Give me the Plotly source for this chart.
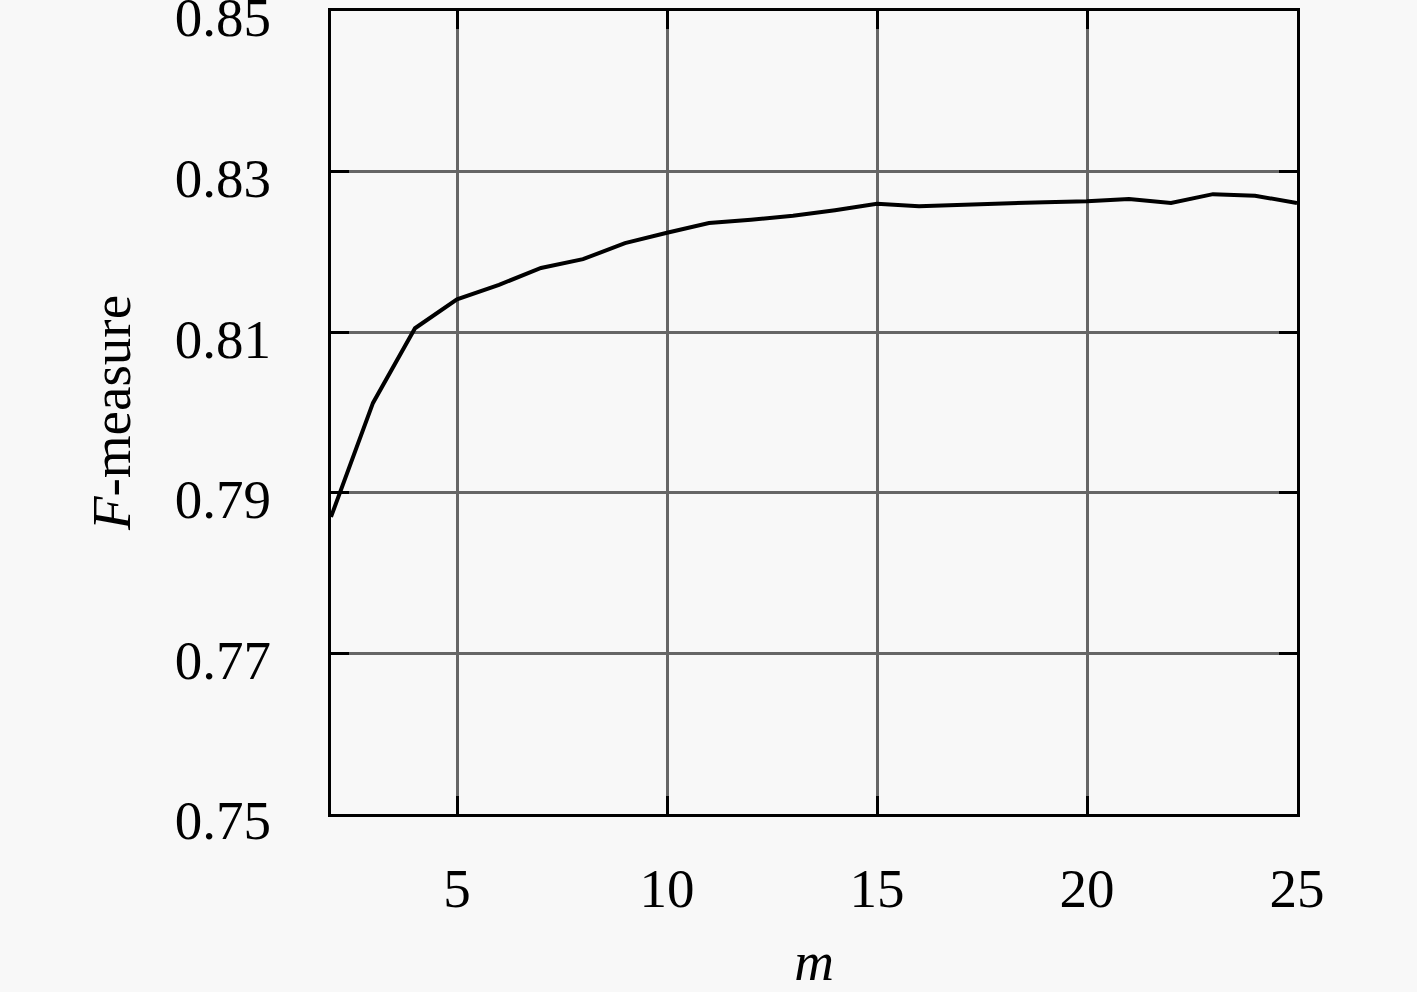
import plotly.graph_objects as go

m_values = list(range(2, 26))
f_measure = [0.7870, 0.8012, 0.8105, 0.8141, 0.8159, 0.8180, 0.8191, 0.8211,
             0.8224, 0.8236, 0.8240, 0.8245, 0.8252, 0.8260, 0.8257, 0.8259,
             0.8261, 0.8262, 0.8263, 0.8266, 0.8261, 0.8272, 0.8270, 0.8261]
x_ticks = [5, 10, 15, 20, 25]
y_ticks = [0.75, 0.77, 0.79, 0.81, 0.83, 0.85]
y_tick_labels = ["0.75", "0.77", "0.79", "0.81", "0.83", "0.85"]

bg = "#f8f8f8"
font_family = "Liberation Serif, DejaVu Serif, serif"

fig = go.Figure()
fig.add_trace(go.Scatter(x=m_values, y=f_measure, mode="lines",
                         line=dict(color="black", width=4), showlegend=False))

fig.update_layout(
    width=1417, height=992,
    margin=dict(l=331, r=120, t=11, b=178, autoexpand=False),
    paper_bgcolor=bg, plot_bgcolor=bg,
    font=dict(family=font_family, size=55, color="black"),
)
fig.update_xaxes(
    range=[2, 25], tickvals=x_ticks, ticktext=[str(v) for v in x_ticks],
    showgrid=True, gridcolor="#666666", gridwidth=3,
    showline=True, linecolor="black", linewidth=3, mirror="allticks",
    ticks="inside", ticklen=18, tickwidth=3, tickcolor="black",
    ticklabelstandoff=24, zeroline=False, automargin=False,
    title=dict(text="<i>m</i>", standoff=40, font=dict(size=55)),
)
fig.update_yaxes(
    range=[0.75, 0.85001], tickvals=y_ticks, ticktext=y_tick_labels,
    showgrid=True, gridcolor="#666666", gridwidth=3,
    showline=True, linecolor="black", linewidth=3, mirror="allticks",
    ticks="inside", ticklen=18, tickwidth=3, tickcolor="black",
    ticklabelstandoff=46, ticklabelshift=6, ticklabeloverflow="allow",
    zeroline=False, automargin=False,
    title=dict(text="<i>F</i>-measure", standoff=27, font=dict(size=55)),
)

fig.write_html(
    "out.html",
    config={"displayModeBar": False},
    post_script="document.body.style.margin='0';document.body.style.background='#f8f8f8';",
)
